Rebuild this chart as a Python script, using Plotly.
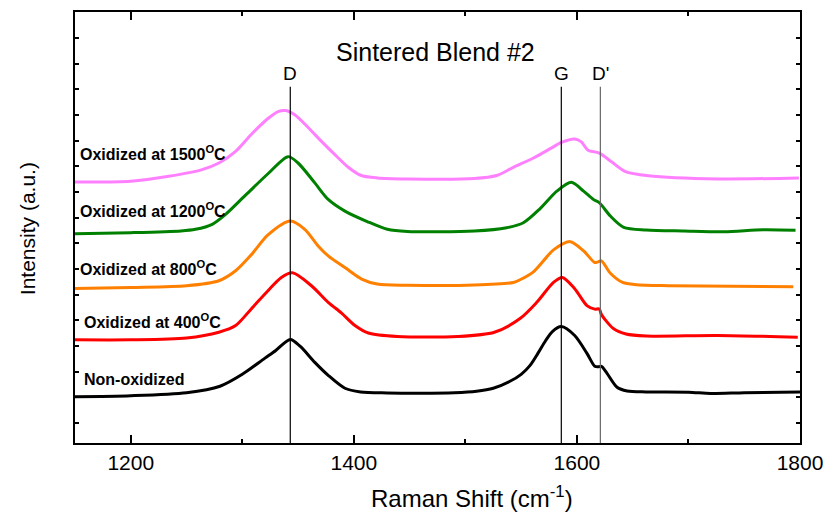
import plotly.graph_objects as go

# Raman shift (cm^-1) and intensity (a.u.) for each sample
w_non = [1150,1200,1250,1280,1300,1320,1330,1343,1352,1365,1377,1392,1406,1430,1460,1490,1510,1525,1540,1550,1558,1565,1572,1578,1586,1598,1609,1616,1619,1622,1627,1636,1645,1662,1700,1720,1750,1800]
i_non = [46.5,47.5,50.5,57,69,85,93,104,97,81,68,55,51.3,50.3,50,50.5,52,55,62,69,78,90,103,112,117,108,90,77,76.5,77,70,56,52.3,51.3,51,49.7,50.5,51.3]

w_400 = [1150,1200,1250,1279,1294,1308,1323,1335,1345,1362,1377,1389,1401,1413,1439,1493,1526,1549,1564,1579,1587,1598,1609,1616,1620,1622,1633,1644,1662,1726,1798]
i_400 = [103.7,103.7,105.5,111.3,118,134.7,153,166.3,171,158,141.3,130.5,118,110.5,107,107,111.3,125,141.3,161.3,166.3,155,138,134.5,134.7,129,114.7,109.5,107.5,108,106.3]

w_800 = [1150,1200,1250,1279,1294,1308,1323,1343,1356,1368,1377,1392,1407,1421,1448,1508,1543,1549,1561,1573,1579,1594,1606,1616,1619,1622,1630,1641,1653,1682,1794]
i_800 = [155.3,156.3,158,163,173,189,209,223,214.7,198,188,176.3,164.7,159.7,158.5,158.7,161.3,164,172,187,194,202.3,193,181.3,182,183,170.5,161.3,159,158,157]

w_1200 = [1150,1200,1245,1258,1273,1285,1302,1323,1341,1350,1365,1377,1392,1412,1430,1448,1508,1537,1552,1567,1582,1595,1606,1615,1620,1630,1642,1662,1696,1732,1767,1796]
i_1200 = [210.3,211.3,213,214.7,219.7,229.7,248,270.5,287.7,281.3,261.3,244.7,233,222.5,214.7,212.5,213,216.3,221.3,235.5,253,262,253,244.5,241.5,228,216.7,214,213,212.3,214.2,213.7]

w_1500 = [1150,1200,1234,1264,1279,1294,1308,1323,1332,1339,1347,1359,1371,1383,1395,1406,1421,1448,1508,1528,1543,1561,1577,1586,1598,1604,1610,1620,1631,1643,1664,1726,1799]
i_1500 = [262.3,263,268,274.7,281.3,293,310,326,333,334,329.7,317,303,289.7,277,269,266.3,265.3,265.7,268.7,277,286.3,296.3,302,305.5,302.5,294,291.3,282.5,273,268.5,265.3,266.3]

series = [
    ("Non-oxidized", w_non, i_non, "#000000"),
    ("Oxidized at 400<sup>O</sup>C", w_400, i_400, "#FF0000"),
    ("Oxidized at 800<sup>O</sup>C", w_800, i_800, "#FF8000"),
    ("Oxidized at 1200<sup>O</sup>C", w_1200, i_1200, "#008000"),
    ("Oxidized at 1500<sup>O</sup>C", w_1500, i_1500, "#FF80FF"),
]

peak_names = ["D", "G", "D'"]
peak_pos = [1343, 1586, 1621]

FONT = "Arial, Liberation Sans, sans-serif"

fig = go.Figure()
for name, w, i, c in series:
    fig.add_trace(go.Scatter(x=w, y=i, mode="lines", name=name,
                             line=dict(color=c, width=3, shape="spline", smoothing=0.8),
                             showlegend=False))

# peak marker lines
line_colors = ["#000000", "#000000", "#666666"]
for p, lc in zip(peak_pos, line_colors):
    fig.add_shape(type="line", xref="x", yref="y", x0=p, x1=p, y0=0, y1=358,
                  line=dict(color=lc, width=1.2))

for n, p in zip(peak_names, peak_pos):
    fig.add_annotation(x=p, y=371, xref="x", yref="y", text=n, showarrow=False,
                       font=dict(family=FONT, size=19, color="black"),
                       xanchor="center", yanchor="middle")

# curve labels
label_y = [64, 123, 176, 234, 291]
label_x = [1156, 1156, 1153, 1153, 1153]
for (name, w, i, c), ly, lx in zip(series, label_y, label_x):
    fig.add_annotation(x=lx, y=ly, xref="x", yref="y", text="<b>" + name + "</b>",
                       showarrow=False, xanchor="left", yanchor="middle",
                       font=dict(family=FONT, size=16, color="black"))

fig.add_annotation(x=0.497, y=0.9076, xref="paper", yref="paper", text="Sintered Blend #2",
                   showarrow=False, xanchor="center", yanchor="middle",
                   font=dict(family=FONT, size=25, color="black"))
fig.add_annotation(x=0.548, y=-0.125, xref="paper", yref="paper", text="Raman Shift (cm<sup>-1</sup>)",
                   showarrow=False, xanchor="center", yanchor="middle",
                   font=dict(family=FONT, size=24, color="black"))
fig.add_annotation(x=-0.066, y=0.4965, xref="paper", yref="paper", text="Intensity (a.u.)",
                   showarrow=False, xanchor="center", yanchor="middle", textangle=-90,
                   font=dict(family=FONT, size=21, color="black"))

fig.update_xaxes(range=[1150, 1800], tick0=1200, dtick=200, ticks="inside", ticklen=8,
                 tickwidth=1.5, tickcolor="black", showline=True, linewidth=2, linecolor="black",
                 mirror="allticks", showgrid=False, zeroline=False,
                 tickfont=dict(family=FONT, size=21, color="black"),
                 minor=dict(dtick=100, ticks="inside", ticklen=4, tickwidth=1.5, tickcolor="black", showgrid=False))
fig.update_yaxes(range=[0, 433], tick0=20, dtick=25.8, ticks="inside", ticklen=4, tickwidth=1.5,
                 tickcolor="black", showticklabels=False, showline=True, linewidth=2,
                 linecolor="black", mirror="allticks", showgrid=False, zeroline=False)

fig.update_layout(width=833, height=514, margin=dict(l=75, r=28, t=10, b=71),
                  plot_bgcolor="white", paper_bgcolor="white",
                  font=dict(family=FONT, color="black"))

fig.write_html("out.html")
